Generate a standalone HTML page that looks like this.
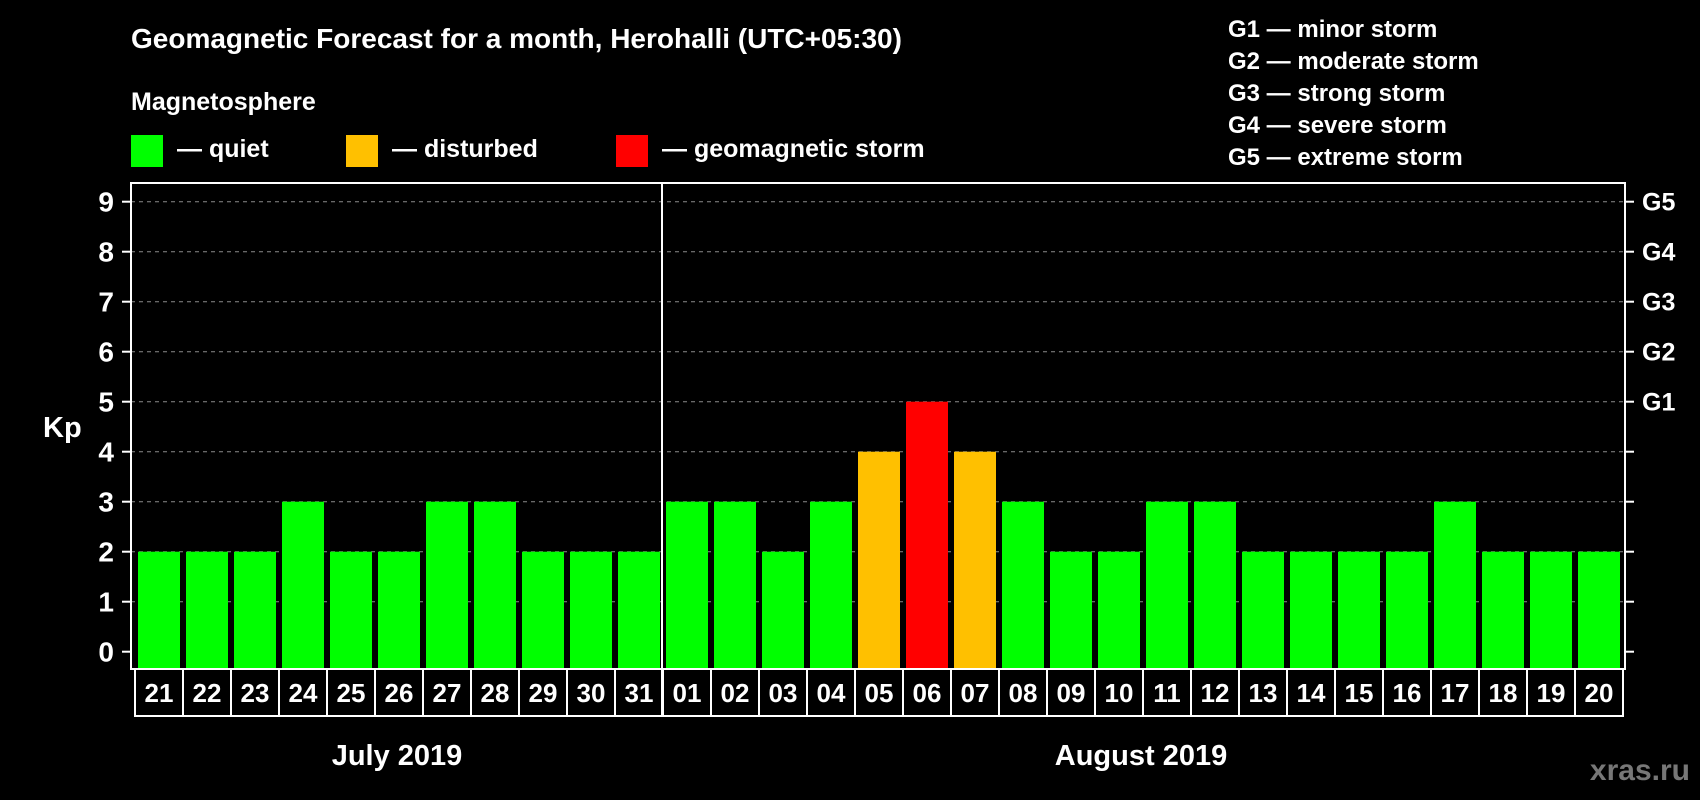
<!DOCTYPE html>
<html><head><meta charset="utf-8"><style>
html,body{margin:0;padding:0;background:#000;}
svg{display:block;font-family:"Liberation Sans",Arial,sans-serif;font-weight:bold;}
</style></head><body>
<svg id="chart" width="1700" height="800" viewBox="0 0 1700 800">
<rect x="0" y="0" width="1700" height="800" fill="#000"/>
<text x="131" y="48" fill="#fff" font-size="28">Geomagnetic Forecast for a month, Herohalli (UTC+05:30)</text>
<text x="131" y="110" fill="#fff" font-size="25">Magnetosphere</text>
<g><rect x="131" y="135" width="32" height="32" fill="#00ff00"/><text x="177" y="157" fill="#fff" font-size="25">— quiet</text></g>
<g><rect x="346" y="135" width="32" height="32" fill="#ffc000"/><text x="392" y="157" fill="#fff" font-size="25">— disturbed</text></g>
<g><rect x="616" y="135" width="32" height="32" fill="#ff0000"/><text x="662" y="157" fill="#fff" font-size="25">— geomagnetic storm</text></g>
<g fill="#fff" font-size="24">
<text x="1228" y="37">G1 — minor storm</text>
<text x="1228" y="69">G2 — moderate storm</text>
<text x="1228" y="101">G3 — strong storm</text>
<text x="1228" y="133">G4 — severe storm</text>
<text x="1228" y="165">G5 — extreme storm</text>
</g>
<text x="43" y="437" fill="#fff" font-size="29">Kp</text>
<text x="397" y="765" fill="#fff" font-size="29" text-anchor="middle">July 2019</text>
<text x="1141" y="765" fill="#fff" font-size="29" text-anchor="middle">August 2019</text>
<text x="1690" y="780" fill="#777" font-size="30" text-anchor="end">xras.ru</text>
<g id="grid"></g><g id="bars"></g><g id="axes"></g>
</svg>
<script>
const days = ["21","22","23","24","25","26","27","28","29","30","31","01","02","03","04","05","06","07","08","09","10","11","12","13","14","15","16","17","18","19","20"];
const kpValues = [2,2,2,3,2,2,3,3,2,2,2,3,3,2,3,4,5,4,3,2,2,3,3,2,2,2,2,3,2,2,2];
const yTicks = [0,1,2,3,4,5,6,7,8,9];
const gLabels = ["G1","G2","G3","G4","G5"];
const gLevels = [5,6,7,8,9];
const monthSplitIndex = 11;

const NS="http://www.w3.org/2000/svg";
const plotL=131, plotR=1625, plotT=183, plotB=669;
const slot=48, firstX=135;
function xPos(i){return firstX+slot*i;}
function yPos(v){return 651.7-50*v;}
function mk(tag,attrs,parent){const e=document.createElementNS(NS,tag);for(const k in attrs)e.setAttribute(k,attrs[k]);parent.appendChild(e);return e;}
const grid=document.getElementById('grid'), bars=document.getElementById('bars'), axes=document.getElementById('axes');

yTicks.forEach(v=>{
  const y=yPos(v);
  if(v>0){const gl=mk('line',{x1:plotL,x2:plotR,y1:y,y2:y,stroke:'#8a8a8a','stroke-width':1,'stroke-dasharray':'4 4'},grid);
  
  }
  const t=mk('line',{x1:122,x2:plotL,y1:y,y2:y,stroke:'#fff','stroke-width':2},axes);
  
  
  const rt=mk('line',{x1:plotR,x2:1634,y1:y,y2:y,stroke:'#fff','stroke-width':2},axes);
  
  
  const lb=mk('text',{x:114,y:y+10,fill:'#fff','font-size':28,'text-anchor':'end'},axes);
  lb.textContent=v;
  
  
});
gLabels.forEach((g,i)=>{
  const lb=mk('text',{x:1642,y:yPos(gLevels[i])+9,fill:'#fff','font-size':25},axes);
  lb.textContent=g;
  
  
});
kpValues.forEach((v,i)=>{
  const col=v>=5?'#ff0000':(v>=4?'#ffc000':'#00ff00');
  const b=mk('rect',{x:xPos(i)+3,y:yPos(v),width:42,height:yPos(0)+16.3-yPos(v)-0,fill:col},bars);
  b.setAttribute('height', plotB-1-yPos(v));
  
  
  const box=mk('rect',{x:xPos(i),y:plotB,width:slot,height:47,fill:'none',stroke:'#fff','stroke-width':2},axes);
  
  
  const t=mk('text',{x:xPos(i)+slot/2,y:plotB+33,fill:'#fff','font-size':26,'text-anchor':'middle'},axes);
  t.textContent=days[i];
  
  
});
const frame=mk('rect',{x:plotL,y:plotT,width:plotR-plotL,height:plotB-plotT,fill:'none',stroke:'#fff','stroke-width':2},axes);


const sx=xPos(monthSplitIndex)-1;
const sep=mk('line',{x1:sx,x2:sx,y1:plotT,y2:plotB+47,stroke:'#fff','stroke-width':2},axes);


</script>
</body></html>
